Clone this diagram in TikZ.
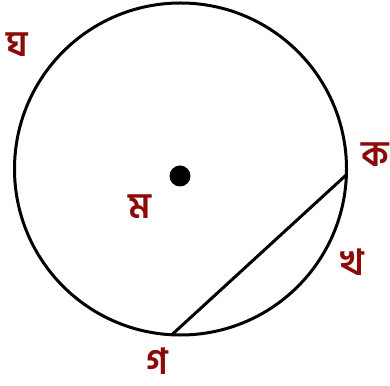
\documentclass[tikz,border=0pt]{standalone}
\usepackage{fontspec}
\newfontfamily\bnfont[Script=Bengali]{Hind Siliguri}
\usetikzlibrary{positioning}
\definecolor{lblred}{HTML}{8B0A0A}

\begin{document}
\begin{tikzpicture}[x=1pt, y=1pt,
    lbl/.style={text=lblred, font=\bnfont\bfseries\fontsize{36}{40}\selectfont, inner sep=0pt}]
      \useasboundingbox (0,0) rectangle (390,385);
      % Circle and centre
      \node[draw, circle, line width=3pt, minimum size=332, inner sep=0pt, outer sep=0pt] (circ) at (180.5,216) {};
      \node[fill, circle, minimum size=21, inner sep=0pt] (centre) at (180,209) {};

      % Chord
      \draw[line width=3pt] (circ.-2) -- (circ.-93);

      % Labels
      \node[lbl] (ka) at (375,230) {ক};
      \node[lbl] (kha) at (352,123) {খ};
      \node[lbl] (ga) at (157,24) {গ};
      \node[lbl] (gha) at (17,340) {ঘ};
      \node[lbl] (ma) at (140,178) {ম};
    \end{tikzpicture}
\end{document}
